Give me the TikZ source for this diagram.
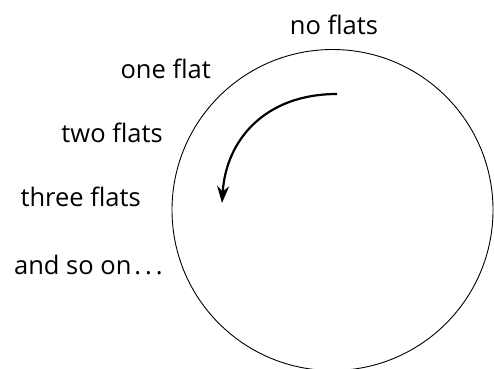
\documentclass[tikz,border=0pt]{standalone}
\usepackage{fontspec}
\setmainfont{Open Sans}
\usetikzlibrary{arrows.meta}
\begin{document}
\begin{tikzpicture}[x=1pt,y=-1pt,
  lbl/.style={font=\fontsize{25.5}{30}\selectfont, inner sep=0pt, anchor=base east},
  ring/.style={draw, line width=0.9pt},
  turn/.style={line width=2.2pt, -{Stealth[length=17pt,width=12pt]}}]
\useasboundingbox (0,0) rectangle (494,368);
\draw[ring] (332.5,210) circle (160.5);
\node[lbl, anchor=base] (n0) at (334,34) {no flats};
\node[lbl] (n1) at (211,78) {one flat};
\node[lbl] (n2) at (163,142) {two flats};
\node[lbl] (n3) at (141,206) {three flats};
\node[lbl] (n4) at (163,274) {and so on\kern3pt.\kern4pt.\kern4pt.};
\coordinate (s) at (337,94);
\coordinate (e) at (222,203);
\draw[turn] (s) .. controls (265,94) and (226,140) .. (e);
\end{tikzpicture}
\end{document}
